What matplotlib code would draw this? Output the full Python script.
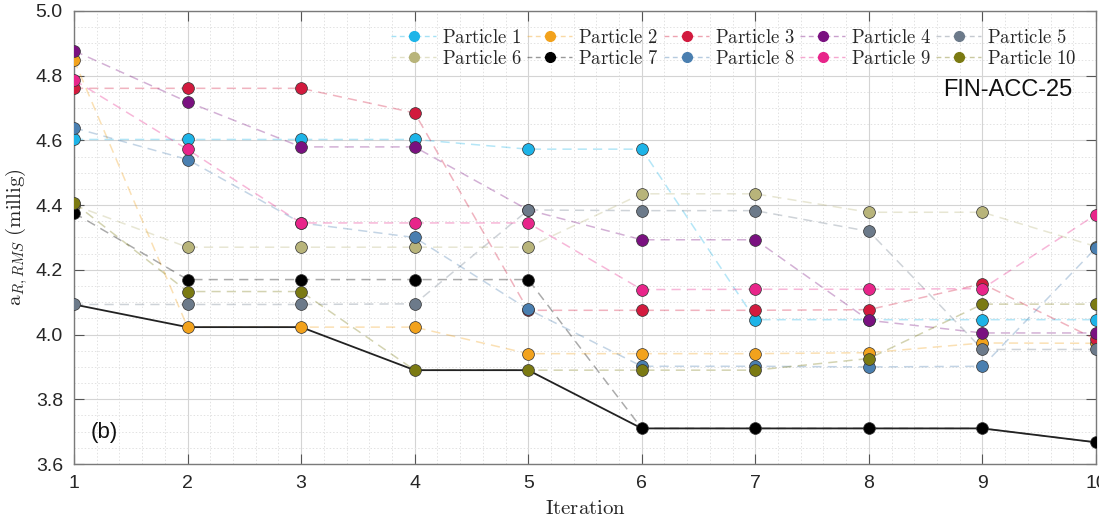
import numpy as np
import matplotlib
matplotlib.use("Agg")
import matplotlib.pyplot as plt
from matplotlib.ticker import MultipleLocator, FormatStrFormatter
from matplotlib.colors import to_rgba

plt.rcParams["mathtext.fontset"] = "cm"

# Iterations of the particle swarm optimisation
iterations = [1, 2, 3, 4, 5, 6, 7, 8, 9, 10]

# RMS acceleration (milli-g) of each particle per iteration
particle_1 = [4.603, 4.603, 4.603, 4.603, 4.573, 4.573, 4.046, 4.046, 4.046, 4.046]
particle_2 = [4.849, 4.023, 4.023, 4.023, 3.941, 3.941, 3.941, 3.944, 3.974, 3.973]
particle_3 = [4.761, 4.761, 4.761, 4.685, 4.075, 4.075, 4.075, 4.077, 4.157, 3.985]
particle_4 = [4.877, 4.719, 4.580, 4.580, 4.385, 4.293, 4.293, 4.044, 4.005, 4.005]
particle_5 = [4.093, 4.093, 4.093, 4.095, 4.385, 4.383, 4.383, 4.319, 3.954, 3.954]
particle_6 = [4.400, 4.270, 4.270, 4.270, 4.270, 4.435, 4.435, 4.378, 4.378, 4.272]
particle_7 = [4.376, 4.170, 4.170, 4.170, 4.170, 3.710, 3.710, 3.710, 3.710, 3.667]
particle_8 = [4.639, 4.541, 4.345, 4.300, 4.078, 3.902, 3.902, 3.900, 3.902, 4.268]
particle_9 = [4.787, 4.572, 4.345, 4.345, 4.345, 4.139, 4.140, 4.140, 4.142, 4.371]
particle_10 = [4.407, 4.133, 4.133, 3.890, 3.890, 3.890, 3.890, 3.926, 4.094, 4.094]

particles = [particle_1, particle_2, particle_3, particle_4, particle_5,
             particle_6, particle_7, particle_8, particle_9, particle_10]
labels = [f"Particle {i}" for i in range(1, 11)]
colors = ["#1db4e8", "#f2a21c", "#d21a3e", "#7a1180", "#6c7a8a",
          "#b8b47a", "#000000", "#4a7fb0", "#e8258a", "#7b7a12"]

# Global best: running minimum over the whole swarm
gbest = np.minimum.accumulate(np.min(np.array(particles), axis=0))

fig = plt.figure(figsize=(10.99, 5.21), dpi=100)
ax = fig.add_axes([0.0673, 0.1094, 0.9300, 0.8695])

ax.plot(iterations, gbest, color="#222222", lw=1.3, zorder=3)

handles = []
for vals, lab, col in zip(particles, labels, colors):
    ax.plot(iterations, vals, ls=(0, (6, 4)), lw=1.1, color=col, alpha=0.33, zorder=2)
    ax.plot(iterations, vals, ls="none", marker="o", ms=8.5, mfc=col,
            mec="#333333", mew=0.5, zorder=4)
    h, = ax.plot([], [], ls=(0, (3.5, 2.5)), lw=1.0, color=to_rgba(col, 0.4),
                 marker="o", ms=7, mfc=to_rgba(col, 1.0), mec=to_rgba(col, 1.0),
                 label=r"$\mathrm{" + lab.replace(" ", r"\ ") + "}$")
    handles.append(h)

# Legend fills column-wise; interleave so rows read 1-5 and 6-10
order = [0, 5, 1, 6, 2, 7, 3, 8, 4, 9]
leg = ax.legend([handles[i] for i in order],
                [handles[i].get_label() for i in order],
                ncol=5, loc="upper right", bbox_to_anchor=(0.988, 0.98),
                fontsize=13.5, frameon=False, handlelength=2.4,
                handletextpad=0.3, columnspacing=0.3, labelspacing=0.12,
                borderaxespad=0.0)
for t in leg.get_texts():
    t.set_color("#262626")

ax.set_xlim(1, 10)
ax.set_ylim(3.6, 5.0)
ax.xaxis.set_major_locator(MultipleLocator(1))
ax.xaxis.set_minor_locator(MultipleLocator(0.2))
ax.yaxis.set_major_locator(MultipleLocator(0.2))
ax.yaxis.set_minor_locator(MultipleLocator(0.05))
ax.yaxis.set_major_formatter(FormatStrFormatter("%.1f"))

ax.grid(which="major", color="#d4d4d4", lw=0.8, ls="-")
ax.grid(which="minor", color="#e2e2e2", lw=0.7, ls=(0, (1.5, 2)))
ax.set_axisbelow(True)

ax.tick_params(which="major", direction="in", length=7, width=0.8,
               top=True, right=True, color="#555555",
               labelsize=14, labelcolor="#262626", pad=8)
ax.tick_params(which="minor", length=0, top=True, right=True)
for lbl in ax.get_xticklabels() + ax.get_yticklabels():
    lbl.set_fontfamily("Liberation Sans")
for sp in ax.spines.values():
    sp.set_color("#7a7a7a")
    sp.set_linewidth(1.0)

ax.set_xlabel(r"$\mathrm{Iteration}$", fontsize=15, color="#262626", labelpad=4)
ax.set_ylabel(r"$\mathrm{a}_{R,RMS}\ \mathrm{(millig)}$", fontsize=15,
              color="#262626", labelpad=4)

ax.text(0.977, 0.825, "FIN-ACC-25", transform=ax.transAxes, ha="right",
        va="center", fontsize=17, family="Liberation Sans", color="#111111")
ax.text(0.016, 0.07, "(b)", transform=ax.transAxes, ha="left", va="center",
        fontsize=16, family="Liberation Sans", color="#111111")

fig.savefig("out.png", dpi=100)
